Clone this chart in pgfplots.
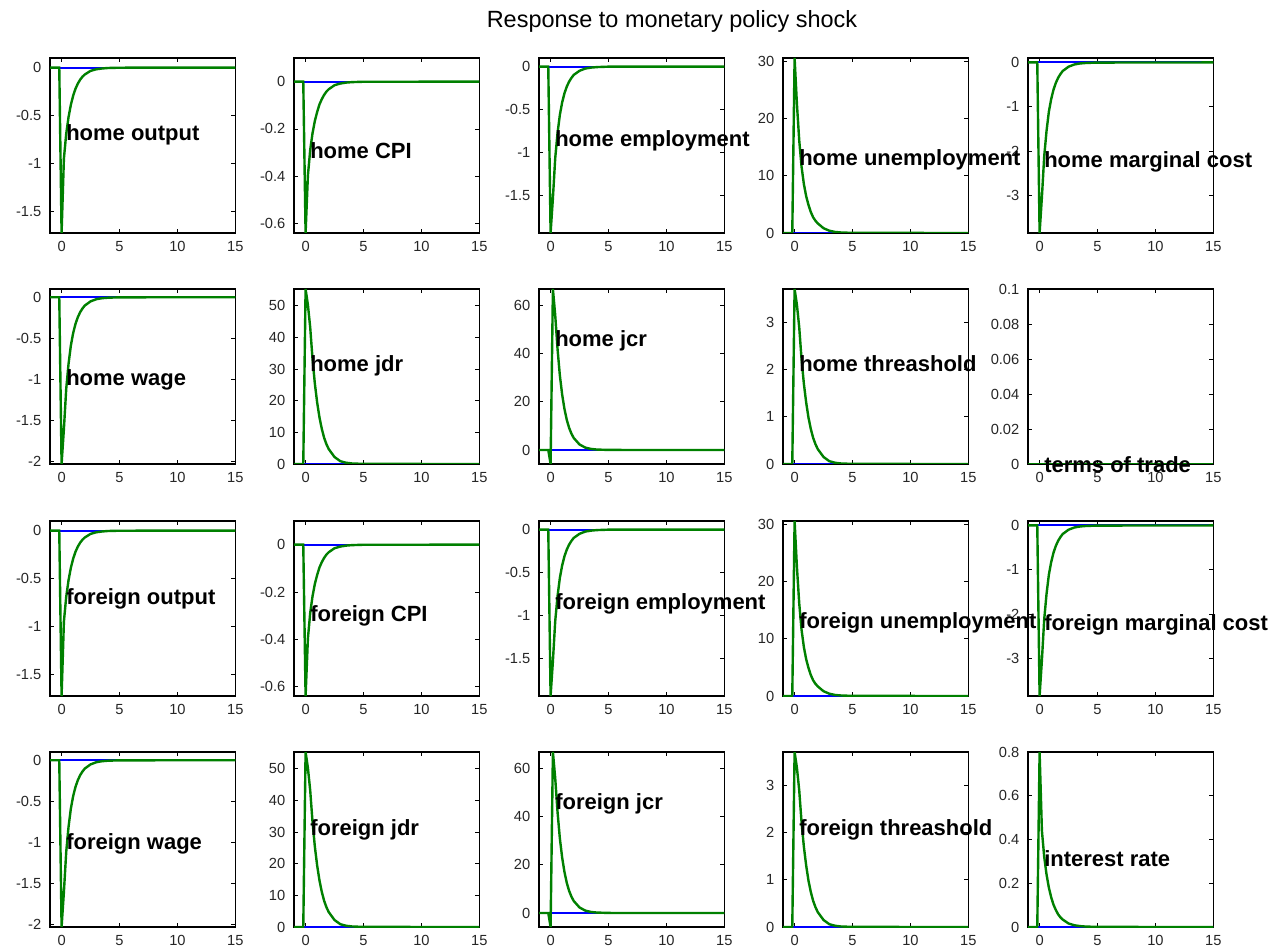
\documentclass[border=0pt]{standalone}
\usepackage{pgfplots}
\usepackage{pgfplotstable}
\pgfplotsset{compat=1.18}
\usepackage{fontspec}
\setmainfont{Liberation Sans}
\definecolor{gpgreen}{RGB}{0,128,0}
\definecolor{gpblue}{RGB}{0,0,255}

\pgfplotstableread{
x out cpi emp unemp mc wage jdr jcr thr ir zero
-1 0 0 0 0 0 0 0 0 0 0 0
-0.2 0 0 0 0 0 0 0 0 0 0 0
0 -1.72 -0.64 -1.94 30.6 -3.84 -2.03 55.3 -5.8 3.7 0.8 0
0.2 -0.946 -0.397 -1.533 22.6 -3.03 -1.604 50.3 66.9 3.37 0.44 0
0.4 -0.688 -0.288 -1.067 16.2 -2.11 -1.117 43.1 56 2.89 0.32 0
0.6 -0.516 -0.218 -0.776 11.6 -1.54 -0.812 33.2 42 2.22 0.24 0
0.8 -0.387 -0.166 -0.563 8.57 -1.11 -0.589 25.4 31 1.70 0.18 0
1.0 -0.292 -0.128 -0.417 6.43 -0.826 -0.436 19.4 23 1.30 0.136 0
1.2 -0.220 -0.096 -0.310 4.90 -0.614 -0.325 14.7 17 0.98 0.102 0
1.4 -0.167 -0.074 -0.233 3.67 -0.461 -0.244 11.1 12.5 0.74 0.078 0
1.6 -0.126 -0.056 -0.175 2.75 -0.346 -0.183 8.3 9.2 0.555 0.058 0
1.8 -0.095 -0.042 -0.132 2.14 -0.261 -0.138 6.25 6.8 0.42 0.044 0
2.0 -0.072 -0.032 -0.097 1.68 -0.192 -0.102 4.7 5.0 0.315 0.034 0
2.5 -0.034 -0.015 -0.049 0.83 -0.096 -0.051 2.2 2.3 0.148 0.016 0
3.0 -0.017 -0.008 -0.023 0.40 -0.046 -0.024 0.88 1.0 0.059 0.008 0
3.5 -0.009 -0.004 -0.012 0.18 -0.023 -0.012 0.39 0.45 0.026 0.004 0
4.0 -0.004 -0.002 -0.006 0.09 -0.012 -0.006 0.17 0.2 0.011 0.002 0
5.0 -0.001 -0.0004 -0.001 0.02 -0.003 -0.0014 0.03 0.04 0.002 0.0004 0
15 0 0 0 0 0 0 0 0 0 0 0
}\data

\pgfplotsset{
  panel/.style={
    scale only axis, width=139pt, height=131.25pt,
    anchor=south west,
    xmin=-1, xmax=15, xtick={0,5,10,15},
    tick align=inside, major tick length=3pt,
    axis line style={line width=0.9pt, black},
    tick style={line width=0.6pt, black},
    tick label style={font=\fontsize{11}{13}\selectfont, text=black!85},
    xticklabel style={yshift=-3pt},
    yticklabel style={xshift=-3pt},
    /pgf/number format/assume math mode=true,
    clip=true,
  }
}

\newcommand{\panel}[7]{%
\begin{axis}[panel, at={(#1,#2)}, ymin=#4, ymax=#5, ytick={#6}, yticklabels={#7}]
\addplot[gpblue, line width=1.5pt] table[x=x,y=zero]{\data};
\addplot[gpgreen, line width=1.8pt] table[x=x,y=#3]{\data};
\end{axis}}

\newcommand{\lab}[3]{\node[anchor=base west, inner sep=0pt, font=\fontsize{16.5}{18}\selectfont\bfseries] at (#1,#2) {#3};}

\begin{document}
\begin{tikzpicture}
\path[use as bounding box] (0,0) rectangle (960pt,712.5pt);

% Row 1
\panel{37.5pt}{537.75pt}{out}{-1.72}{0.1}{0,-0.5,-1,-1.5}{0,-0.5,-1,-1.5}
\panel{220.5pt}{537.75pt}{cpi}{-0.64}{0.1}{0,-0.2,-0.4,-0.6}{0,-0.2,-0.4,-0.6}
\panel{404.25pt}{537.75pt}{emp}{-1.94}{0.1}{0,-0.5,-1,-1.5}{0,-0.5,-1,-1.5}
\panel{587.25pt}{537.75pt}{unemp}{0}{30.6}{0,10,20,30}{0,10,20,30}
\panel{771pt}{537.75pt}{mc}{-3.84}{0.1}{0,-1,-2,-3}{0,-1,-2,-3}
% Row 2
\panel{37.5pt}{364.5pt}{wage}{-2.03}{0.1}{0,-0.5,-1,-1.5,-2}{0,-0.5,-1,-1.5,-2}
\panel{220.5pt}{364.5pt}{jdr}{0}{55.3}{0,10,20,30,40,50}{0,10,20,30,40,50}
\panel{404.25pt}{364.5pt}{jcr}{-5.8}{66.9}{0,20,40,60}{0,20,40,60}
\panel{587.25pt}{364.5pt}{thr}{0}{3.7}{0,1,2,3}{0,1,2,3}
\panel{771pt}{364.5pt}{zero}{0}{0.1}{0,0.02,0.04,0.06,0.08,0.1}{0,0.02,0.04,0.06,0.08,0.1}
% Row 3
\panel{37.5pt}{190.5pt}{out}{-1.72}{0.1}{0,-0.5,-1,-1.5}{0,-0.5,-1,-1.5}
\panel{220.5pt}{190.5pt}{cpi}{-0.64}{0.1}{0,-0.2,-0.4,-0.6}{0,-0.2,-0.4,-0.6}
\panel{404.25pt}{190.5pt}{emp}{-1.94}{0.1}{0,-0.5,-1,-1.5}{0,-0.5,-1,-1.5}
\panel{587.25pt}{190.5pt}{unemp}{0}{30.6}{0,10,20,30}{0,10,20,30}
\panel{771pt}{190.5pt}{mc}{-3.84}{0.1}{0,-1,-2,-3}{0,-1,-2,-3}
% Row 4
\panel{37.5pt}{17.25pt}{wage}{-2.03}{0.1}{0,-0.5,-1,-1.5,-2}{0,-0.5,-1,-1.5,-2}
\panel{220.5pt}{17.25pt}{jdr}{0}{55.3}{0,10,20,30,40,50}{0,10,20,30,40,50}
\panel{404.25pt}{17.25pt}{jcr}{-5.8}{66.9}{0,20,40,60}{0,20,40,60}
\panel{587.25pt}{17.25pt}{thr}{0}{3.7}{0,1,2,3}{0,1,2,3}
\panel{771pt}{17.25pt}{ir}{0}{0.8}{0,0.2,0.4,0.6,0.8}{0,0.2,0.4,0.6,0.8}

% Title
\node[anchor=base, inner sep=0pt, font=\fontsize{17.6}{20}\selectfont] at (504pt,691.5pt) {Response to monetary policy shock};

% Labels
\lab{49.5pt}{606.75pt}{home output}
\lab{232.5pt}{593.25pt}{home CPI}
\lab{416.25pt}{602.25pt}{home employment}
\lab{599.25pt}{588pt}{home unemployment}
\lab{783pt}{586.5pt}{home marginal cost}
\lab{49.5pt}{423pt}{home wage}
\lab{232.5pt}{433.5pt}{home jdr}
\lab{416.25pt}{452.25pt}{home jcr}
\lab{599.25pt}{433.5pt}{home threashold}
\lab{783pt}{357.75pt}{terms of trade}
\lab{49.5pt}{259.5pt}{foreign output}
\lab{232.5pt}{246.75pt}{foreign CPI}
\lab{416.25pt}{255pt}{foreign employment}
\lab{599.25pt}{241.5pt}{foreign unemployment}
\lab{783pt}{240pt}{foreign marginal cost}
\lab{49.5pt}{75.75pt}{foreign wage}
\lab{232.5pt}{86.25pt}{foreign jdr}
\lab{416.25pt}{105.75pt}{foreign jcr}
\lab{599.25pt}{86.25pt}{foreign threashold}
\lab{783pt}{63pt}{interest rate}
\end{tikzpicture}
\end{document}
